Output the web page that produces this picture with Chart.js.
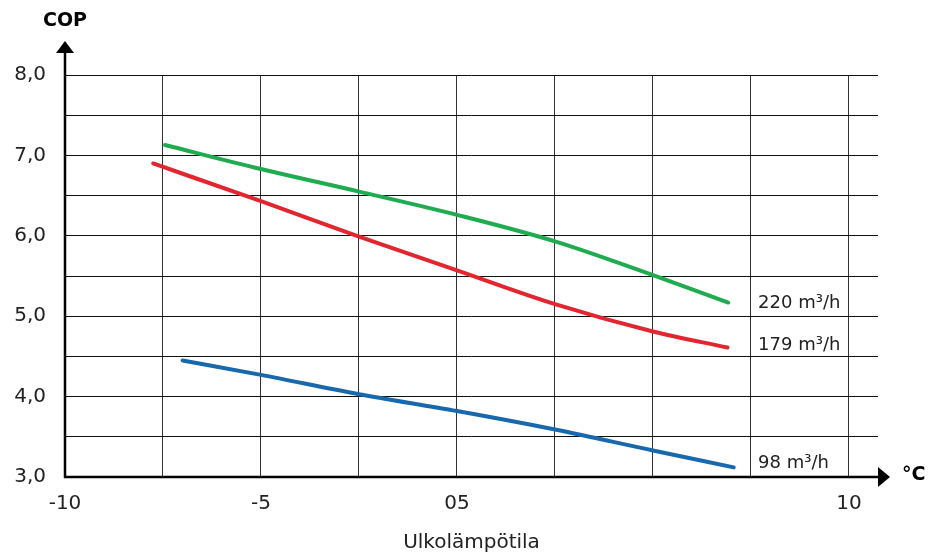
<!DOCTYPE html>
<html>
<head>
<meta charset="utf-8">
<script src="https://cdn.jsdelivr.net/npm/chart.js@4/dist/chart.umd.min.js"></script>
<style>
  html,body{margin:0;padding:0;background:#fff}
  #wrap{width:931px;height:557px}
</style>
</head>
<body>
<div id="wrap"><canvas id="c" width="931" height="557"></canvas></div>
<script>
// ---- Data ----
const flow220X = [-7.45, -5, -2.5, 0, 2.5, 5, 6.92];
const flow220Y = [7.13, 6.83, 6.55, 6.26, 5.93, 5.51, 5.17];
const flow179X = [-7.75, -5, -2.5, 0, 2.5, 5, 6.9];
const flow179Y = [6.90, 6.43, 5.99, 5.57, 5.15, 4.81, 4.61];
const flow98X  = [-7.0, -5, -2.5, 0, 2.5, 5, 7.06];
const flow98Y  = [4.45, 4.27, 4.03, 3.82, 3.59, 3.33, 3.12];

const seriesNames  = ["220 m³/h", "179 m³/h", "98 m³/h"];
const seriesColors = ["#1fab4f", "#e2252f", "#1768ad"];
const labelX = 7.68;                 // where the flow labels start (°C)
const labelY = [5.16, 4.64, 3.17];   // label centers (COP)

const xTickLabels = {"-10":"-10", "-5":"-5", "0":"05", "10":"10"};
const yTickLabels = {"3":"3,0","4":"4,0","5":"5,0","6":"6,0","7":"7,0","8":"8,0"};

const FONT = "'DejaVu Sans', sans-serif";
const pts = (xs, ys) => xs.map((x,i)=>({x, y: ys[i]}));

// ---- Axis arrows, axis names, flow labels ----
const decor = {
  id: "decor",
  afterDraw(chart){
    const {ctx, chartArea:a, scales:{x, y}} = chart;
    ctx.save();
    ctx.strokeStyle = "#000"; ctx.fillStyle = "#000"; ctx.lineWidth = 2.5;
    // y axis + arrow
    ctx.beginPath(); ctx.moveTo(a.left, a.bottom + 1); ctx.lineTo(a.left, 52); ctx.stroke();
    ctx.beginPath(); ctx.moveTo(a.left - 9, 53); ctx.lineTo(a.left + 9, 53); ctx.lineTo(a.left, 41); ctx.closePath(); ctx.fill();
    // x axis + arrow
    ctx.beginPath(); ctx.moveTo(a.left - 1, a.bottom); ctx.lineTo(a.right + 1, a.bottom); ctx.stroke();
    ctx.beginPath(); ctx.moveTo(a.right, a.bottom - 10); ctx.lineTo(a.right, a.bottom + 10); ctx.lineTo(a.right + 12, a.bottom); ctx.closePath(); ctx.fill();
    // axis names
    ctx.font = "bold 19px " + FONT; ctx.textBaseline = "middle";
    ctx.textAlign = "center"; ctx.fillText("COP", a.left, 21);
    ctx.textAlign = "left"; ctx.fillText("°C", a.right + 24, a.bottom - 2);
    // flow labels
    ctx.font = "18px " + FONT; ctx.fillStyle = "#222";
    seriesNames.forEach((n,i)=>{
      ctx.fillText(n, x.getPixelForValue(labelX), y.getPixelForValue(labelY[i]));
    });
    ctx.restore();
  }
};

new Chart(document.getElementById("c"), {
  type: "line",
  data: {
    datasets: [
      {label: seriesNames[0], data: pts(flow220X, flow220Y), borderColor: seriesColors[0]},
      {label: seriesNames[1], data: pts(flow179X, flow179Y), borderColor: seriesColors[1]},
      {label: seriesNames[2], data: pts(flow98X,  flow98Y),  borderColor: seriesColors[2]}
    ]
  },
  options: {
    responsive: false, animation: false, devicePixelRatio: 1,
    layout: {padding: {top: 75, right: 53, left: 0, bottom: 0}},
    elements: {
      line: {borderWidth: 4, cubicInterpolationMode: "monotone", borderCapStyle: "round", fill: false},
      point: {radius: 0}
    },
    plugins: {legend: {display: false}, tooltip: {enabled: false}},
    scales: {
      x: {
        type: "linear", min: -10, max: 10.74,
        afterFit: s => { s.height = 80; },
        grid: {color: "#333", lineWidth: 1, drawTicks: false},
        border: {display: false},
        ticks: {
          stepSize: 2.5, includeBounds: false, autoSkip: false, maxRotation: 0,
          padding: 15, color: "#222", font: {family: FONT, size: 20},
          callback: v => xTickLabels[String(v)] || ""
        },
        title: {display: true, text: "Ulkolämpötila", color: "#222",
                font: {family: FONT, size: 20}, padding: {top: 0, bottom: 2}}
      },
      y: {
        type: "linear", min: 3, max: 8,
        afterFit: s => { s.width = 65; },
        grid: {color: "#111", lineWidth: 1, drawTicks: false},
        border: {display: false},
        ticks: {
          stepSize: 0.5, autoSkip: false, padding: 19, color: "#222",
          font: {family: FONT, size: 20},
          callback: v => yTickLabels[String(v)] || ""
        }
      }
    }
  },
  plugins: [decor]
});
</script>
</body>
</html>
